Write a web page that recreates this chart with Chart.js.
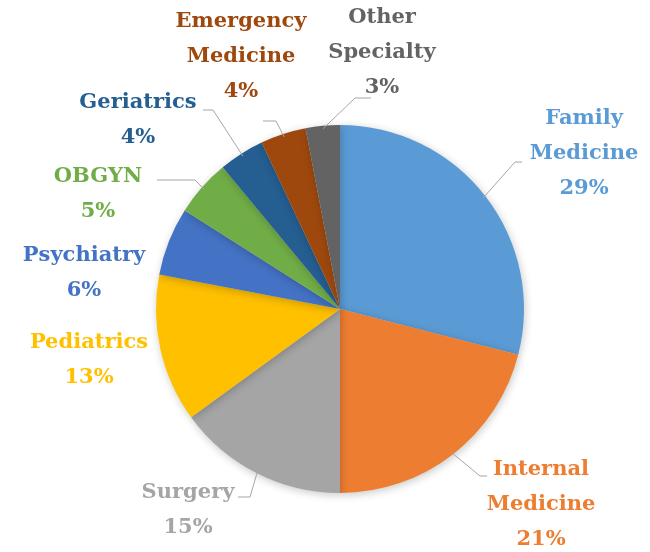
<!DOCTYPE html>
<html>
<head>
<meta charset="utf-8">
<script src="https://cdn.jsdelivr.net/npm/chart.js@4/dist/chart.umd.min.js"></script>
<style>
  html, body { margin: 0; padding: 0; background: #fff; }
  #wrap { width: 650px; height: 552px; position: relative; }
</style>
</head>
<body>
<div id="wrap"><canvas id="chart"></canvas></div>
<script>
const categories = ["Family Medicine", "Internal Medicine", "Surgery", "Pediatrics", "Psychiatry",
  "OBGYN", "Geriatrics", "Emergency Medicine", "Other Specialty"];
const shares = [29, 21, 15, 13, 6, 5, 4, 4, 3];
const labelLines = [
  ["Family", "Medicine"], ["Internal", "Medicine"], ["Surgery"], ["Pediatrics"], ["Psychiatry"],
  ["OBGYN"], ["Geriatrics"], ["Emergency", "Medicine"], ["Other", "Specialty"]
];
const colors = ["#5B9BD5", "#ED7D31", "#A5A5A5", "#FFC000", "#4472C4",
  "#70AD47", "#255E91", "#9E480E", "#636363"];

// label block: center x, first line center y; leader: elbow point and end point (null = no leader)
const labelLayout = [
  { x: 584, y: 119, elbow: [515, 162], end: [522, 162] },
  { x: 541, y: 470, elbow: [480, 476], end: [487, 476] },
  { x: 188, y: 493, elbow: [250, 497], end: [238, 497] },
  { x: 89,  y: 343, elbow: null },
  { x: 84,  y: 256, elbow: null },
  { x: 98,  y: 177, elbow: [195, 180], end: [157, 180] },
  { x: 138, y: 103, elbow: [213, 110], end: [203, 110] },
  { x: 241, y: 22,  elbow: [276, 121], end: [263, 121] },
  { x: 382, y: 18,  elbow: [355, 98],  end: [371, 98] }
];
const LINE_H = 35;

const pieShadow = {
  id: "pieShadow",
  beforeDatasetsDraw(chart) {
    const ctx = chart.ctx;
    ctx.save();
    ctx.shadowColor = "rgba(0,0,0,0.22)";
    ctx.shadowBlur = 9;
    ctx.shadowOffsetX = 1;
    ctx.shadowOffsetY = 2;
  },
  afterDatasetsDraw(chart) {
    chart.ctx.restore();
  }
};

const pieLabels = {
  id: "pieLabels",
  afterDraw(chart) {
    const ctx = chart.ctx;
    const arcs = chart.getDatasetMeta(0).data;
    ctx.save();
    arcs.forEach((arc, i) => {
      const lay = labelLayout[i];
      if (lay.elbow) {
        const mid = (arc.startAngle + arc.endAngle) / 2;
        const r = arc.outerRadius - 3;
        ctx.beginPath();
        ctx.moveTo(arc.x + Math.cos(mid) * r, arc.y + Math.sin(mid) * r);
        ctx.lineTo(lay.elbow[0], lay.elbow[1]);
        ctx.lineTo(lay.end[0], lay.end[1]);
        ctx.strokeStyle = "#A6A6A6";
        ctx.lineWidth = 1;
        ctx.stroke();
      }
      const lines = labelLines[i].concat([shares[i] + "%"]);
      ctx.fillStyle = colors[i];
      ctx.font = "bold 21px 'DejaVu Serif'";
      ctx.textAlign = "center";
      ctx.textBaseline = "middle";
      lines.forEach((t, k) => ctx.fillText(t, lay.x, lay.y + k * LINE_H));
    });
    ctx.restore();
  }
};

new Chart(document.getElementById("chart"), {
  type: "pie",
  data: {
    labels: categories,
    datasets: [{ data: shares, backgroundColor: colors, borderWidth: 0 }]
  },
  options: {
    responsive: true,
    maintainAspectRatio: false,
    animation: false,
    layout: { padding: { left: 156, right: 126, top: 125, bottom: 59 } },
    plugins: { legend: { display: false }, tooltip: { enabled: false } }
  },
  plugins: [pieShadow, pieLabels]
});
</script>
</body>
</html>
